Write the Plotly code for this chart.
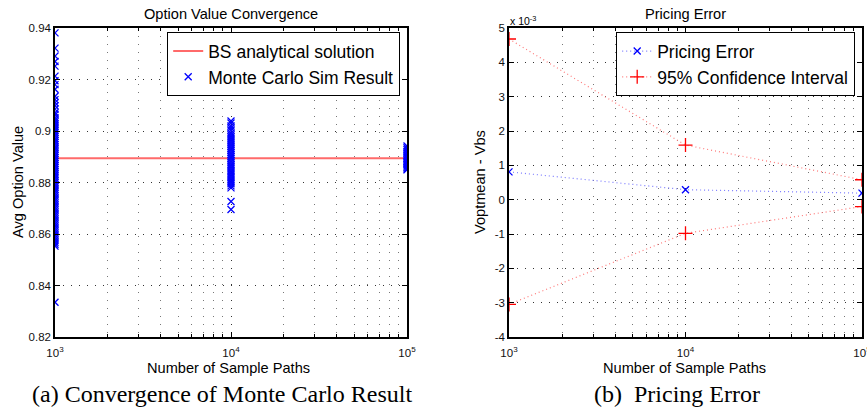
import plotly.graph_objects as go

# ---------------- data ----------------
n_paths = [1000, 10000, 100000]

mc_1e3 = [0.9381, 0.9322, 0.9291, 0.9270, 0.9252, 0.9213, 0.9195, 0.9180, 0.9162,
          0.9135, 0.9122, 0.9110, 0.9098, 0.9085, 0.9071, 0.9063, 0.9052, 0.9044,
          0.9036, 0.9027, 0.9019, 0.9011, 0.9003, 0.8995, 0.8987, 0.8979, 0.8970,
          0.8962, 0.8955, 0.8947, 0.8938, 0.8930, 0.8921, 0.8913, 0.8905, 0.8897,
          0.8889, 0.8881, 0.8873, 0.8865, 0.8858, 0.8850, 0.8842, 0.8833, 0.8825,
          0.8817, 0.8808, 0.8800, 0.8791, 0.8783, 0.8774, 0.8766, 0.8757, 0.8748,
          0.8739, 0.8730, 0.8721, 0.8712, 0.8703, 0.8694, 0.8685, 0.8676, 0.8667,
          0.8658, 0.8649, 0.8640, 0.8631, 0.8622, 0.8613, 0.8604, 0.8595, 0.8586,
          0.8577, 0.8568, 0.8560, 0.8553, 0.8335]
mc_1e4 = [0.9039, 0.9031, 0.9020, 0.9012, 0.9003, 0.8992, 0.8985, 0.8977, 0.8969,
          0.8961, 0.8954, 0.8946, 0.8939, 0.8931, 0.8924, 0.8916, 0.8909, 0.8901,
          0.8894, 0.8886, 0.8879, 0.8871, 0.8864, 0.8856, 0.8848, 0.8841, 0.8833,
          0.8825, 0.8818, 0.8810, 0.8802, 0.8795, 0.8787, 0.8779, 0.8726, 0.8695]
mc_1e5 = [0.8942, 0.8935, 0.8928, 0.8921, 0.8914, 0.8907, 0.8900, 0.8894, 0.8888,
          0.8882, 0.8876, 0.8870, 0.8864, 0.8858, 0.8853, 0.8849]
bs_value = 0.8894

err_mean = [0.00081, 0.00029, 0.00019]
ci_upper = [0.00468, 0.00159, 0.00058]
ci_lower = [-0.00305, -0.00098, -0.00020]

left_yticks = [0.82, 0.84, 0.86, 0.88, 0.90, 0.92, 0.94]
left_yticktext = ["0.82", "0.84", "0.86", "0.88", "0.9", "0.92", "0.94"]
right_yticks = [-0.004, -0.003, -0.002, -0.001, 0.0, 0.001, 0.002, 0.003, 0.004, 0.005]
right_yticktext = ["-4", "-3", "-2", "-1", "0", "1", "2", "3", "4", "5"]
xtick_text = ["10<sup>3</sup>", "10<sup>4</sup>", "10<sup>5</sup>"]
minor_x = [2000, 3000, 4000, 5000, 6000, 7000, 8000, 9000,
           20000, 30000, 40000, 50000, 60000, 70000, 80000, 90000]

# ---------------- figure ----------------
W, H = 867, 416
SANS = "Liberation Sans, Arial, sans-serif"
SERIF = "Liberation Serif, Times New Roman, serif"

def px_x(p):
    return p / W

def px_y(p):
    return 1 - p / H

fig = go.Figure()

mc_x = [n_paths[0]] * len(mc_1e3) + [n_paths[1]] * len(mc_1e4) + [n_paths[2]] * len(mc_1e5)
mc_y = mc_1e3 + mc_1e4 + mc_1e5

fig.add_trace(go.Scatter(
    x=[n_paths[0], n_paths[-1]], y=[bs_value, bs_value], mode="lines",
    line=dict(color="#ff6a6a", width=2), name="BS analytical solution",
    xaxis="x", yaxis="y", legend="legend"))
fig.add_trace(go.Scatter(
    x=mc_x, y=mc_y, mode="markers",
    marker=dict(symbol="x-thin-open", size=7, color="#0000ff",
                line=dict(color="#0000ff", width=1.3)),
    name="Monte Carlo Sim Result", xaxis="x", yaxis="y", legend="legend"))

fig.add_trace(go.Scatter(
    x=n_paths, y=err_mean, mode="lines+markers",
    line=dict(color="#7a7aff", width=1.2, dash="1px,3px"),
    marker=dict(symbol="x-thin-open", size=7, color="#0000ff",
                line=dict(color="#0000ff", width=1.3)),
    name="Pricing Error", xaxis="x2", yaxis="y2", legend="legend2"))
fig.add_trace(go.Scatter(
    x=n_paths, y=ci_upper, mode="lines+markers",
    line=dict(color="#ff7a7a", width=1.2, dash="1px,3px"),
    marker=dict(symbol="cross-thin-open", size=10, color="#ff0000",
                line=dict(color="#ff0000", width=1.3)),
    name="95% Confidence Interval", legendgroup="ci",
    xaxis="x2", yaxis="y2", legend="legend2"))
fig.add_trace(go.Scatter(
    x=n_paths, y=ci_lower, mode="lines+markers",
    line=dict(color="#ff7a7a", width=1.2, dash="1px,3px"),
    marker=dict(symbol="cross-thin-open", size=10, color="#ff0000",
                line=dict(color="#ff0000", width=1.3)),
    name="95% Confidence Interval", legendgroup="ci", showlegend=False,
    xaxis="x2", yaxis="y2", legend="legend2"))

tickfont = dict(family=SANS, size=11.5, color="#111")

def xaxis_cfg(domain, anchor):
    return dict(
        domain=domain, anchor=anchor, type="log", range=[3, 5], automargin=False,
        tickmode="array", tickvals=n_paths, ticktext=xtick_text,
        ticklabeloverflow="allow", ticklabelstandoff=4,
        ticks="inside", ticklen=5, tickcolor="black", tickfont=tickfont,
        showline=True, linecolor="black", linewidth=1.5, mirror="ticks",
        showgrid=True, gridcolor="#333", griddash="1px,7px", gridwidth=1,
        zeroline=False,
        minor=dict(tickmode="array", tickvals=minor_x, ticks="inside", ticklen=3,
                   tickcolor="black", showgrid=True, gridcolor="#777",
                   griddash="1px,7px", gridwidth=1),
    )

def yaxis_cfg(domain, anchor, rng, tv, tt):
    return dict(
        domain=domain, anchor=anchor, range=rng, automargin=False,
        tickmode="array", tickvals=tv, ticktext=tt,
        ticks="inside", ticklen=5, tickcolor="black", tickfont=tickfont,
        showline=True, linecolor="black", linewidth=1.5, mirror="ticks",
        showgrid=True, gridcolor="#333", griddash="1px,7px", gridwidth=1,
        zeroline=False,
    )

ydom = [px_y(337), px_y(28)]

legend_common = dict(
    bgcolor="white", bordercolor="black", borderwidth=1.2,
    font=dict(family=SANS, size=17.5, color="black"),
    xanchor="right", yanchor="top", tracegroupgap=0,
    itemclick=False, itemdoubleclick=False,
)

fig.update_layout(
    width=W, height=H, margin=dict(l=0, r=0, t=0, b=0, autoexpand=False),
    paper_bgcolor="white", plot_bgcolor="white",
    showlegend=True,
    xaxis=xaxis_cfg([px_x(55), px_x(407)], "y"),
    yaxis=yaxis_cfg(ydom, "x", [0.82, 0.94], left_yticks, left_yticktext),
    xaxis2=xaxis_cfg([px_x(509), px_x(862)], "y2"),
    yaxis2=yaxis_cfg(ydom, "x2", [-0.004, 0.005], right_yticks, right_yticktext),
    legend=dict(x=px_x(400), y=px_y(32), **legend_common),
    legend2=dict(x=px_x(855), y=px_y(32), **legend_common),
)

def ann(text, x, y, size, family=SANS, angle=0, xanchor="center", yanchor="middle"):
    fig.add_annotation(
        text=text, x=px_x(x), y=px_y(y), xref="paper", yref="paper",
        showarrow=False, textangle=angle, xanchor=xanchor, yanchor=yanchor,
        font=dict(family=family, size=size, color="black"))

ann("Option Value Convergence", 231, 14, 14.6)
ann("Pricing Error", 685, 14, 14.6)
ann("Number of Sample Paths", 229, 368, 14.6)
ann("Number of Sample Paths", 684, 368, 14.6)
ann("Avg Option Value", 18, 182, 14.6, angle=-90)
ann("Voptmean - Vbs", 480, 182, 14.6, angle=-90)
ann("x 10<sup>-3</sup>", 508, 20, 10.5, xanchor="left")
ann("(a) Convergence of Monte Carlo Result", 222, 394, 24, family=SERIF)
ann("(b)  Pricing Error", 677, 394, 24, family=SERIF)

fig.write_html(
    "out.html",
    config={"displayModeBar": False},
    post_script="document.body.style.margin='0';document.body.style.overflow='hidden';",
)
